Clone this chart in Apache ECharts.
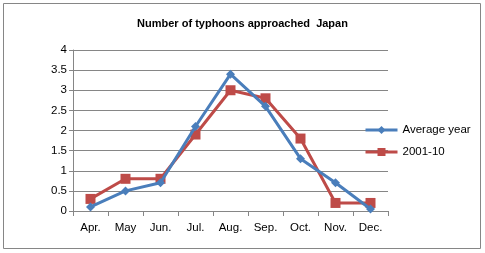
<!DOCTYPE html>
<html>
<head>
<meta charset="utf-8">
<script src="https://cdn.jsdelivr.net/npm/echarts@6/dist/echarts.min.js"></script>
<style>
  html, body { margin: 0; padding: 0; background: #fff; }
  #chart { width: 485px; height: 253px; }
</style>
</head>
<body>
<div id="chart"></div>
<script>
var months = ['Apr.', 'May', 'Jun.', 'Jul.', 'Aug.', 'Sep.', 'Oct.', 'Nov.', 'Dec.'];
var averageYear = [0.1, 0.5, 0.7, 2.1, 3.4, 2.6, 1.3, 0.7, 0.05];
var recent = [0.3, 0.8, 0.8, 1.9, 3.0, 2.8, 1.8, 0.2, 0.2];

var myChart = echarts.init(document.getElementById('chart'));
var font = 'Liberation Sans, Arial, sans-serif';

var option = {
  animation: false,
  textStyle: { fontFamily: font },
  graphic: [{
    type: 'rect',
    shape: { x: 3.5, y: 3.5, width: 477, height: 245 },
    style: { fill: 'none', stroke: '#868686', lineWidth: 1 }
  }],
  title: {
    text: 'Number of typhoons approached  Japan',
    left: 'center',
    top: 13,
    textStyle: { fontSize: 11, fontWeight: 'bold', color: '#000', fontFamily: font }
  },
  legend: {
    orient: 'vertical',
    left: 359,
    top: 119,
    itemGap: 10,
    itemWidth: 32,
    itemHeight: 10,
    lineStyle: { width: 3 },
    textStyle: { fontSize: 11.5, color: '#000' },
    data: ['Average year', '2001-10']
  },
  grid: { left: 73, right: 97, top: 50, bottom: 42 },
  xAxis: {
    type: 'category',
    data: months,
    boundaryGap: true,
    axisLine: { lineStyle: { color: '#868686' } },
    axisTick: { show: true, length: 5, alignWithLabel: false, lineStyle: { color: '#868686' } },
    axisLabel: { color: '#000', fontSize: 11.5, margin: 11 }
  },
  yAxis: {
    type: 'value',
    min: 0,
    max: 4,
    interval: 0.5,
    axisLine: { show: true, lineStyle: { color: '#868686' } },
    axisTick: { show: true, length: 4, lineStyle: { color: '#868686' } },
    axisLabel: { color: '#000', fontSize: 11.5, margin: 6 },
    splitLine: { lineStyle: { color: '#868686' } }
  },
  series: [{
    name: 'Average year',
    type: 'line',
    data: averageYear,
    symbol: 'diamond',
    symbolSize: 9,
    color: '#4a7ebb',
    lineStyle: { width: 3 },
    z: 3
  }, {
    name: '2001-10',
    type: 'line',
    data: recent,
    symbol: 'rect',
    symbolSize: 10,
    color: '#be4b48',
    lineStyle: { width: 3 },
    z: 2
  }]
};

myChart.setOption(option);
window.addEventListener('resize', function () {
  myChart.resize();
});
</script>
</body>
</html>
